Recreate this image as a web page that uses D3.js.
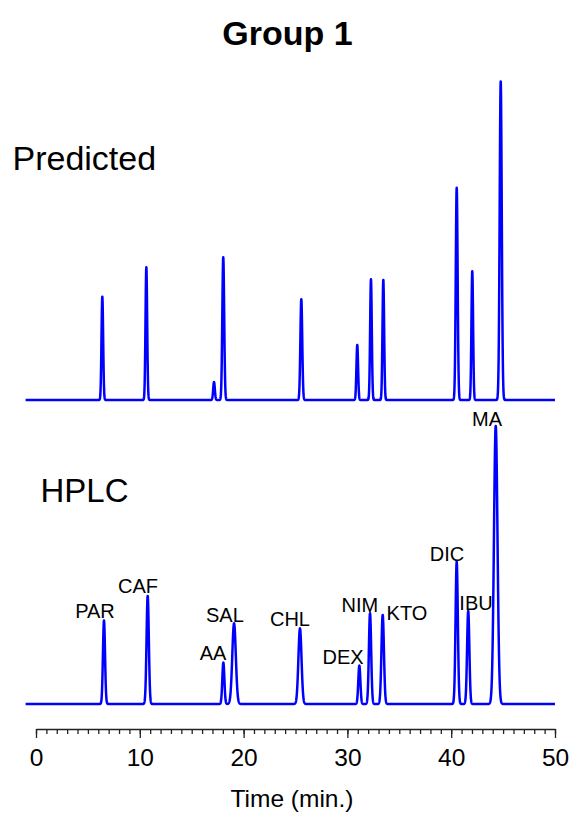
<!DOCTYPE html>
<html>
<head>
<meta charset="utf-8">
<script src="https://cdn.jsdelivr.net/npm/d3@7"></script>
<style>
  body { margin: 0; background: #fff; }
  text { font-family: "Liberation Sans", Arial, Helvetica, sans-serif; }
</style>
</head>
<body>
<div class="chart"></div>
<script>
// peak tables (time in min, height in relative units, sigma in min)
const drugs = ['PAR','CAF','AA','SAL','CHL','DEX','NIM','KTO','DIC','IBU','MA'];

const predTime   = [6.39, 10.63, 17.15, 18.04, 25.56, 30.95, 32.27, 33.46, 40.53, 42.03, 44.77];
const predHeight = [32.3, 41.5, 5.6, 44.6, 31.5, 17.2, 37.7, 37.5, 66.3, 40.2, 99.5];
const predSigma  = [0.08, 0.08, 0.08, 0.09, 0.09, 0.08, 0.08, 0.08, 0.09, 0.08, 0.10];

const hplcTime   = [6.55, 10.76, 18.05, 19.08, 25.43, 31.15, 32.18, 33.40, 40.53, 41.64, 44.29];
const hplcHeight = [29.8, 38.6, 14.8, 28.8, 27.0, 13.7, 32.4, 31.8, 50.8, 33.2, 99.3];
const hplcSigma  = [0.10, 0.11, 0.10, 0.17, 0.15, 0.10, 0.11, 0.12, 0.11, 0.11, 0.17];

// label anchors (time, level) for the HPLC trace
const labelTime  = [5.68, 9.83, 17.05, 18.2, 24.47, 29.58, 31.21, 35.74, 39.6, 42.39, 43.45];
const labelLevel = [30.7, 39.6, 15.7, 29.3, 27.9, 14.3, 32.9, 30.0, 51.1, 33.6, 99.3];

const majorTicks = [0, 10, 20, 30, 40, 50];

const width = 570, height = 816;
const svg = d3.select(".chart")
  .append("svg")
  .attr("width", width)
  .attr("height", height);

const x = d3.scaleLinear().domain([0, 50]).range([36, 555]);
const yPred = d3.scaleLinear().domain([0, 100]).range([400, 80]);
const yHplc = d3.scaleLinear().domain([0, 100]).range([704, 424]);

// sum of gaussian peaks
function trace(times, heights, sigmas) {
  const pts = [];
  for (let t = -1; t <= 50.0001; t += 0.01) {
    let v = 0;
    for (let i = 0; i < times.length; i++) {
      const z = (t - times[i]) / sigmas[i];
      v += heights[i] * Math.exp(-0.5 * z * z);
    }
    pts.push([t, v]);
  }
  return pts;
}

function drawTrace(pts, y) {
  svg.append("path")
    .datum(pts)
    .attr("fill", "none")
    .attr("stroke", "#0000ff")
    .attr("stroke-width", 2.5)
    .attr("stroke-linejoin", "round")
    .attr("d", d3.line().x(d => x(d[0])).y(d => y(d[1])));
}

drawTrace(trace(predTime, predHeight, predSigma), yPred);
drawTrace(trace(hplcTime, hplcHeight, hplcSigma), yHplc);

// peak labels
svg.selectAll(".lab")
  .data(drugs)
  .enter()
  .append("text")
  .attr("class", "lab")
  .attr("x", (d, i) => x(labelTime[i]))
  .attr("y", (d, i) => yHplc(labelLevel[i]))
  .attr("text-anchor", "middle")
  .attr("font-size", "20px")
  .text(d => d);

// axis: minor ticks every minute, major every 10
const axisY = 729;
svg.append("g")
  .attr("transform", `translate(0,${axisY})`)
  .call(d3.axisBottom(x).tickValues(d3.range(0, 51, 1)).tickSize(5).tickSizeOuter(0).tickFormat(""))
  .call(g => g.select(".domain").remove())
  .call(g => g.selectAll("line").attr("stroke", "#222").attr("stroke-width", 1.3));

svg.append("g")
  .attr("transform", `translate(0,${axisY})`)
  .call(d3.axisBottom(x).tickValues(majorTicks).tickSize(9).tickSizeOuter(0).tickPadding(11))
  .call(g => g.select(".domain").attr("stroke", "#222").attr("stroke-width", 1.3))
  .call(g => g.selectAll("line").attr("stroke", "#222").attr("stroke-width", 1.3))
  .call(g => g.selectAll("text")
    .attr("font-size", "24.5px")
    .attr("font-family", "'Liberation Sans', Arial, sans-serif")
    .attr("fill", "#000"));

svg.append("text")
  .attr("x", 292)
  .attr("y", 807)
  .attr("text-anchor", "middle")
  .attr("font-size", "24.5px")
  .text("Time (min.)");

// title and panel names
svg.append("text")
  .attr("x", 287.5)
  .attr("y", 45)
  .attr("text-anchor", "middle")
  .attr("font-size", "34px")
  .attr("font-weight", "bold")
  .text("Group 1");

svg.append("text")
  .attr("x", 12.5)
  .attr("y", 169.5)
  .attr("font-size", "34px")
  .text("Predicted");

svg.append("text")
  .attr("x", 40.5)
  .attr("y", 501.5)
  .attr("font-size", "33px")
  .text("HPLC");
</script>
</body>
</html>
